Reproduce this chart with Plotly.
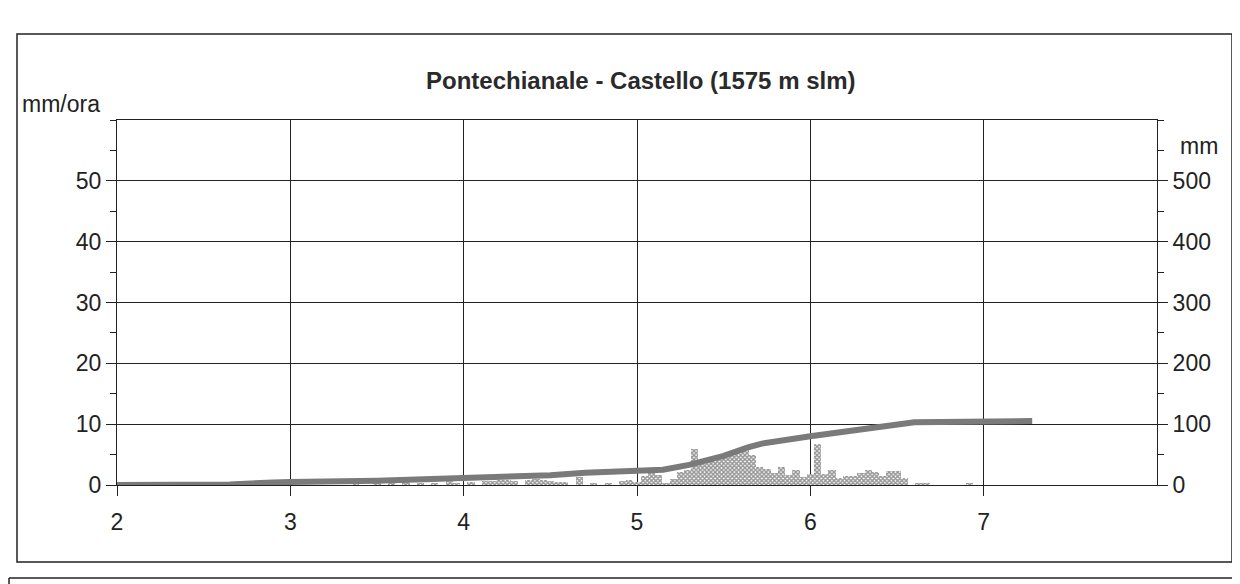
import plotly.graph_objects as go

# ---- data ----
# hourly rainfall (mm/ora), hours counted from the start of day 2
rain_hour = [16, 17, 18, 19, 20,
             33, 36, 38, 40, 42, 44, 46, 47, 49, 51, 52, 53, 54, 55, 57, 58, 59, 60, 61, 62,
             64, 66, 68, 70, 71, 72,
             73, 74, 75, 76, 77, 78, 79, 80, 81, 82, 83, 84, 85, 86, 87, 88, 89,
             90, 91, 92, 93, 94, 95, 96, 97, 98, 99, 100, 101, 102, 103, 104, 105,
             106, 107, 108, 109, 111, 112, 118]
rain_mmh = [0.5, 0.6, 0.4, 0.6, 0.5,
            0.3, 0.4, 0.3, 0.5, 0.3, 0.4, 0.6, 0.4, 0.5, 0.7, 0.6, 0.8, 0.9, 0.7, 0.8, 1.0, 0.9, 0.7, 0.5, 0.5,
            1.3, 0.3, 0.4, 0.6, 0.8, 0.5,
            1.5, 2.0, 1.6, 0.4, 1.0, 2.2, 2.5, 6.0, 3.4, 3.9, 4.7, 4.9, 5.3, 5.7, 5.9, 5.0, 2.9,
            2.6, 1.9, 2.9, 1.7, 2.4, 1.3, 1.8, 6.7, 1.8, 2.4, 1.1, 1.5, 1.4, 1.9, 2.4, 2.2,
            1.4, 2.3, 2.3, 1.1, 0.3, 0.2, 0.3]

# cumulative rainfall (mm)
cum_day = [2.0, 2.65, 2.9, 3.0, 3.5, 4.0, 4.5, 4.7, 5.0, 5.15, 5.3, 5.5, 5.64, 5.72,
           6.0, 6.3, 6.54, 6.6, 7.28]
cum_mm = [0, 1, 4, 5, 7, 11, 16, 20, 22, 25, 33, 48, 62, 68,
          80, 92, 102, 103, 105]

x_ticks = [2, 3, 4, 5, 6, 7]
left_ticks = [0, 10, 20, 30, 40, 50]
right_ticks = [0, 100, 200, 300, 400, 500]

title_text = "Pontechianale - Castello (1575 m slm)"
left_unit = "mm/ora"
right_unit = "mm"

# ---- figure ----
FONT = "Liberation Sans, Arial, sans-serif"
INK = "#222222"

rain_day = [2 + h / 24 for h in rain_hour]

fig = go.Figure()
fig.add_trace(go.Bar(
    x=rain_day, y=rain_mmh, width=1 / 24,
    marker=dict(color="white", line_width=0,
                pattern=dict(shape="x", fgcolor="#2a2a2a", bgcolor="white",
                             size=3, solidity=0.7)),
    yaxis="y", showlegend=False, hoverinfo="skip"))
fig.add_trace(go.Scatter(
    x=cum_day, y=cum_mm, mode="lines",
    line=dict(color="#7a7a7a", width=6),
    yaxis="y2", showlegend=False, hoverinfo="skip"))

# page has an 8px body margin: page coordinates -> figure coordinates
OFF = 8
L, R, T, B = 117 - OFF, 1157 - OFF, 120 - OFF, 485 - OFF
W, H = 1232, 576

def px(x):
    return (x - OFF - L) / (R - L)

def py(y):
    return (B - (y - OFF)) / (B - T)

fig.update_layout(
    width=W, height=H,
    margin=dict(l=L, r=W - R, t=T, b=H - B, pad=0),
    paper_bgcolor="white", plot_bgcolor="white",
    font=dict(family=FONT, size=23, color=INK),
    bargap=0,
    xaxis=dict(range=[2, 8], tickvals=x_ticks, ticktext=[str(v) for v in x_ticks],
               showgrid=True, gridcolor=INK, gridwidth=1,
               showline=True, linecolor=INK, linewidth=1, mirror=True,
               ticks="outside", ticklen=10, tickcolor=INK, ticklabelstandoff=6,
               zeroline=False, fixedrange=True),
    yaxis=dict(range=[0, 60], tickvals=left_ticks,
               showgrid=True, gridcolor=INK, gridwidth=1,
               showline=True, linecolor=INK, linewidth=1,
               ticks="outside", ticklen=10, tickcolor=INK,
               minor=dict(dtick=5, ticks="outside", ticklen=6, tickcolor=INK, showgrid=False),
               zeroline=False, fixedrange=True),
    yaxis2=dict(range=[0, 600], tickvals=right_ticks, overlaying="y", side="right",
                showgrid=False, showline=True, linecolor=INK, linewidth=1,
                ticks="outside", ticklen=10, tickcolor=INK,
                minor=dict(dtick=50, ticks="outside", ticklen=6, tickcolor=INK, showgrid=False),
                zeroline=False, fixedrange=True),
    annotations=[
        dict(text="<b>" + title_text + "</b>", x=px(640), y=py(80), xref="paper", yref="paper",
             showarrow=False, font=dict(size=24, color="#2a2a2a"), xanchor="center", yanchor="middle"),
        dict(text=left_unit, x=px(20), y=py(104), xref="paper", yref="paper",
             showarrow=False, xanchor="left", yanchor="middle", font=dict(size=23)),
        dict(text=right_unit, x=px(1178), y=py(146), xref="paper", yref="paper",
             showarrow=False, xanchor="left", yanchor="middle", font=dict(size=23)),
    ],
    shapes=[
        dict(type="rect", xref="paper", yref="paper",
             x0=px(17), x1=px(1232), y0=py(34), y1=py(562),
             line=dict(color=INK, width=1.5), fillcolor="rgba(0,0,0,0)", layer="below"),
        dict(type="line", xref="paper", yref="paper",
             x0=px(9), x1=px(1240), y0=py(578), y1=py(578),
             line=dict(color=INK, width=1.5)),
        dict(type="line", xref="paper", yref="paper",
             x0=px(9), x1=px(9), y0=py(578), y1=py(590),
             line=dict(color=INK, width=1.5)),
    ],
)

fig.write_html("out.html")
